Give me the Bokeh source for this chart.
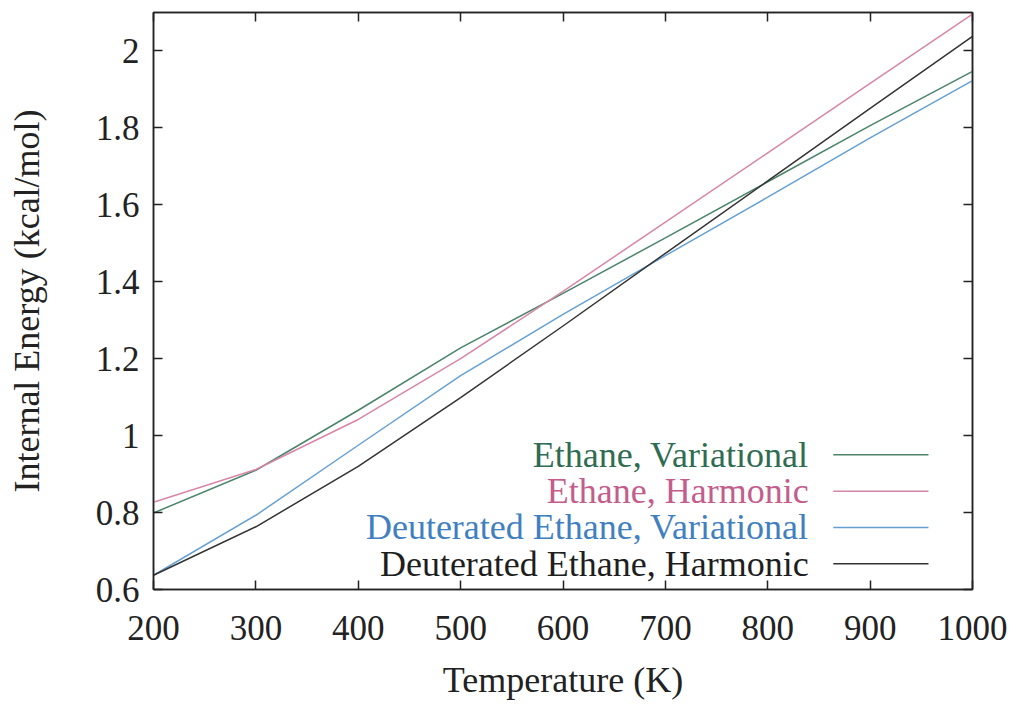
from bokeh.plotting import figure
from bokeh.models import LinearAxis, FixedTicker, CustomJSTickFormatter, Range1d, Label
from bokeh.embed import file_html
from bokeh.resources import INLINE

# ---- data ----
temperature = [200, 300, 400, 500, 600, 700, 800, 900, 1000]
ethane_variational = [0.799, 0.910, 1.066, 1.228, 1.370, 1.514, 1.660, 1.806, 1.947]
ethane_harmonic = [0.827, 0.912, 1.042, 1.200, 1.375, 1.555, 1.735, 1.916, 2.096]
deut_variational = [0.637, 0.793, 0.975, 1.156, 1.315, 1.468, 1.620, 1.774, 1.923]
deut_harmonic = [0.637, 0.763, 0.920, 1.099, 1.285, 1.474, 1.662, 1.851, 2.038]

x_ticks = [200, 300, 400, 500, 600, 700, 800, 900, 1000]
y_ticks = [0.6, 0.8, 1.0, 1.2, 1.4, 1.6, 1.8, 2.0]

series_labels = ["Ethane, Variational", "Ethane, Harmonic",
                 "Deuterated Ethane, Variational", "Deuterated Ethane, Harmonic"]
line_colors = ["#4a8469", "#d886a8", "#66a0d2", "#333333"]
text_colors = ["#2f6c52", "#c45d8c", "#4180c0", "#1e1e1e"]

FONT = "Liberation Serif"

p = figure(width=1012, height=702, output_backend="svg", toolbar_location=None,
           x_range=Range1d(200, 1000), y_range=Range1d(0.6, 2.1),
           min_border_left=153, min_border_right=40, min_border_top=12,
           min_border_bottom=111)
p.background_fill_color = "white"
p.border_fill_color = "white"
p.grid.visible = False
p.outline_line_color = "#222222"
p.outline_line_width = 1.5

fmt_y = CustomJSTickFormatter(code="return String(Math.round(tick*10)/10);")

for ax, ticks in ((p.xaxis[0], x_ticks), (p.yaxis[0], y_ticks)):
    ax.ticker = FixedTicker(ticks=ticks)
    ax.major_tick_in = 9
    ax.major_tick_out = 0
    ax.minor_tick_line_color = None
    ax.axis_line_color = "#222222"
    ax.axis_line_width = 1.5
    ax.major_tick_line_color = "#222222"
    ax.major_tick_line_width = 1.5
    ax.major_label_text_font = FONT
    ax.major_label_text_font_size = "35px"
    ax.major_label_text_color = "#222222"
    ax.axis_label_text_font = FONT
    ax.axis_label_text_font_size = "36px"
    ax.axis_label_text_font_style = "normal"
    ax.axis_label_text_color = "#222222"

p.yaxis[0].formatter = fmt_y
p.xaxis[0].axis_label = "Temperature (K)"
p.yaxis[0].axis_label = "Internal Energy (kcal/mol)"
p.xaxis[0].major_label_standoff = 26
p.xaxis[0].axis_label_standoff = 17
p.yaxis[0].major_label_standoff = 14
p.yaxis[0].axis_label_standoff = 46

# mirrored tick axes (top, right)
for loc, ticks in (("above", x_ticks), ("right", y_ticks)):
    ax = LinearAxis(ticker=FixedTicker(ticks=ticks))
    ax.major_tick_in = 9
    ax.major_tick_out = 0
    ax.minor_tick_line_color = None
    ax.major_label_text_font_size = "0px"
    ax.major_label_standoff = 0
    ax.axis_line_color = "#222222"
    ax.axis_line_width = 1.5
    ax.major_tick_line_color = "#222222"
    ax.major_tick_line_width = 1.5
    ax.major_label_text_color = None
    p.add_layout(ax, loc)

series = [ethane_variational, ethane_harmonic, deut_variational, deut_harmonic]
for vals, col in zip(series, line_colors):
    p.line(temperature, vals, line_color=col, line_width=1.5)

# custom legend: text on the left, sample line on the right
legend_text_x = 840
legend_line_x0, legend_line_x1 = 864, 957
legend_y0, legend_dy = 0.950, 0.0944
for i, (lab, lc, tc) in enumerate(zip(series_labels, line_colors, text_colors)):
    yy = legend_y0 - i * legend_dy
    p.add_layout(Label(x=legend_text_x, y=yy, text=lab, text_align="right",
                       text_baseline="middle", text_font=FONT,
                       text_font_size="36px", text_color=tc))
    p.segment(x0=[legend_line_x0], y0=[yy], x1=[legend_line_x1], y1=[yy],
              line_color=lc, line_width=1.5)

open("out.html", "w").write(file_html(p, INLINE))
